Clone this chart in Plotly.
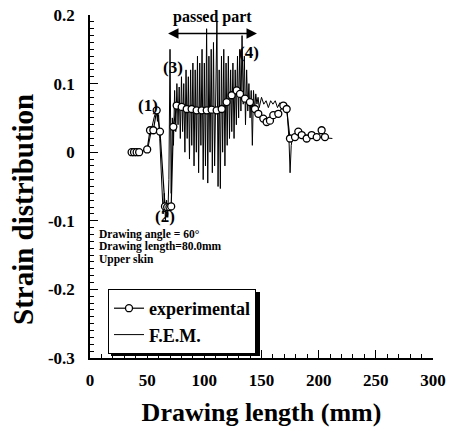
import plotly.graph_objects as go

# Experimental data (Drawing length mm, strain)
exp_x = [36.4, 38.5, 40.8, 43.0, 50.0, 52.5, 55.4, 58.3, 61.2, 65.6, 67.5, 69.5, 71.0, 72.9,
         75.8, 80.2, 84.6, 88.9, 93.3, 97.7, 102.1, 106.4, 110.8, 115.2, 119.5, 123.9, 128.3,
         131.2, 135.6, 139.9, 144.3, 147.2, 151.6, 154.5, 157.4, 160.3, 164.7, 169.1, 172.0,
         174.9, 179.3, 182.2, 185.2, 189.5, 193.9, 198.3, 202.6, 205.5]
exp_y = [0.0, 0.0, 0.0, 0.0, 0.004, 0.032, 0.032, 0.061, 0.03, -0.079, -0.08, -0.08, -0.079, 0.037,
         0.068, 0.066, 0.063, 0.063, 0.061, 0.061, 0.061, 0.062, 0.061, 0.063, 0.073, 0.083, 0.090,
         0.085, 0.078, 0.073, 0.063, 0.056, 0.049, 0.044, 0.046, 0.054, 0.056, 0.068, 0.063,
         0.020, 0.022, 0.030, 0.025, 0.020, 0.025, 0.022, 0.032, 0.022]

# F.E.M. data
fem_x = [50, 52, 54, 56, 58, 59, 60, 61, 62, 63, 64, 65, 66, 67, 68, 69, 70, 71, 72, 73, 74, 75,
         76, 77, 78, 79, 80, 81, 82, 83, 84, 85, 86, 87, 88, 89, 90, 91, 92, 93, 94, 95, 96, 97,
         98, 99, 100, 101, 102, 103, 104, 105, 106, 107, 108, 109, 110, 111, 112, 113, 114, 115,
         116, 117, 118, 119, 120, 121, 122, 123, 124, 125, 126, 127, 128, 129, 130, 131, 132,
         133, 134, 135, 136, 137, 138, 139, 140, 141, 142, 143, 144, 145, 146, 147, 148, 150,
         152, 154, 156, 158, 160, 162, 164, 166, 168, 170, 172, 173, 174, 175, 176, 177, 179,
         182, 186, 190, 195, 200, 205, 210, 212]
fem_y = [0.0, 0.02, 0.035, 0.05, 0.062, 0.045, 0.055, 0.02, -0.02, -0.07, -0.09, -0.06, -0.1,
         -0.07, -0.095, -0.04, 0.15, -0.06, 0.05, 0.01, 0.09, 0.03, 0.1, 0.04, 0.095, 0.02, 0.11,
         0.03, 0.1, 0.0, 0.12, 0.02, 0.11, -0.01, 0.12, 0.01, 0.13, -0.02, 0.12, 0.0, 0.14, -0.03,
         0.13, 0.01, 0.15, -0.04, 0.13, -0.02, 0.18, -0.045, 0.14, 0.0, 0.15, -0.03, 0.16, -0.02,
         0.13, 0.19, -0.05, 0.12, -0.053, 0.14, 0.0, 0.15, -0.02, 0.13, 0.01, 0.14, 0.02, 0.12,
         0.03, 0.13, 0.02, 0.12, 0.04, 0.14, 0.05, 0.15, 0.06, 0.17, 0.07, 0.14, 0.04, 0.12, 0.06,
         0.1, 0.05, 0.09, 0.01, 0.09, 0.06, 0.085, 0.07, 0.08, 0.065, 0.08, 0.07, 0.075, 0.065,
         0.075, 0.07, 0.075, 0.065, 0.072, 0.068, 0.072, 0.07, 0.04, 0.02, -0.03, 0.01, 0.02,
         0.022, 0.025, 0.022, 0.022, 0.023, 0.022, 0.021, 0.02, 0.02]

x_ticks = [0, 50, 100, 150, 200, 250, 300]
y_ticks = [0.2, 0.1, 0.0, -0.1, -0.2, -0.3]
y_tick_labels = ["0.2", "0.1", "0", "-0.1", "-0.2", "-0.3"]

FONT = "Liberation Serif"
L, R, T, B = 90, 433, 15, 358
PW, PH = R - L, B - T


def px(xp):
    return (xp - L) / PW


def py(yp):
    return 1 - (yp - T) / PH


fig = go.Figure()
fig.add_trace(go.Scatter(x=fem_x, y=fem_y, mode="lines", name="F.E.M.",
                         line=dict(color="black", width=1), legendrank=2))
fig.add_trace(go.Scatter(x=exp_x, y=exp_y, mode="lines+markers", name="experimental",
                         line=dict(color="black", width=1.2),
                         marker=dict(symbol="circle", size=7, color="white",
                                     line=dict(color="black", width=1.3)),
                         legendrank=1))

fig.update_xaxes(range=[0, 300], tickvals=x_ticks, ticks="inside", ticklen=8, tickwidth=1.2,
                 tickcolor="black", showline=True, linecolor="black", linewidth=1.5,
                 showgrid=False, zeroline=False, automargin=False,
                 tickfont=dict(family=FONT, size=17, color="black", weight="bold"),
                 ticklabelstandoff=6,
                 minor=dict(dtick=10, ticks="inside", ticklen=4, tickcolor="black", tickwidth=1),
                 title=dict(text="Drawing length (mm)", standoff=14,
                            font=dict(family=FONT, size=26, color="black", weight="bold")))
fig.update_yaxes(range=[-0.3, 0.2], tickvals=y_ticks, ticktext=y_tick_labels, ticks="inside",
                 ticklen=8, tickwidth=1.2, tickcolor="black", showline=True, linecolor="black",
                 linewidth=1.5, showgrid=False, zeroline=False, automargin=False,
                 tickfont=dict(family=FONT, size=17, color="black", weight="bold"),
                 ticklabelstandoff=10,
                 minor=dict(dtick=0.01, ticks="inside", ticklen=4, tickcolor="black", tickwidth=1))

ann_font = dict(family=FONT, size=17, color="black", weight="bold")
annotations = [
    # y-axis title (placed like the reference, slightly below the axis centre)
    dict(xref="paper", yref="paper", x=px(23), y=py(210), text="Strain distribution",
         textangle=-90, showarrow=False, xanchor="center", yanchor="middle",
         font=dict(family=FONT, size=29, color="black", weight="bold")),
    dict(x=107, y=0.197, text="passed part", showarrow=False,
         font=dict(family=FONT, size=16, color="black", weight="bold")),
    dict(x=146, y=0.173, ax=67, ay=0.173, axref="x", ayref="y", xref="x", yref="y", text="",
         showarrow=True, arrowhead=2, arrowside="end+start", arrowsize=1.3, arrowwidth=1.6,
         arrowcolor="black"),
    dict(x=50.5, y=0.068, text="(1)", showarrow=False, font=ann_font),
    dict(x=65.6, y=-0.094, text="(2)", showarrow=False, font=ann_font),
    dict(x=72.5, y=0.124, text="(3)", showarrow=False, font=ann_font),
    dict(x=139, y=0.145, text="(4)", showarrow=False, font=ann_font),
]
txt_font = dict(family=FONT, size=11.5, color="black", weight="bold")
for i, t in enumerate(["Drawing angle = 60°", "Drawing length=80.0mm", "Upper skin"]):
    annotations.append(dict(xref="paper", yref="paper", x=px(97),
                            y=py(234 + 12.5 * i), text=t, showarrow=False,
                            xanchor="left", yanchor="middle", align="left", font=txt_font))
fig.update_layout(annotations=annotations)

# legend shadow
fig.add_shape(type="rect", xref="paper", yref="paper",
              x0=px(111), x1=px(260), y0=py(356), y1=py(292),
              fillcolor="black", line=dict(width=0), layer="above")

fig.update_layout(
    width=452, height=429,
    margin=dict(l=L, r=452 - R, t=T, b=429 - B, autoexpand=False),
    plot_bgcolor="white", paper_bgcolor="white",
    showlegend=True,
    legend=dict(x=px(108), y=py(289), xanchor="left", yanchor="top",
                bgcolor="white", bordercolor="black", borderwidth=1,
                font=dict(family=FONT, size=18, color="black", weight="bold"),
                itemwidth=30, tracegroupgap=0),
)

fig.write_html("out.html", post_script="document.body.style.margin='0';",
               config={"displayModeBar": False})
